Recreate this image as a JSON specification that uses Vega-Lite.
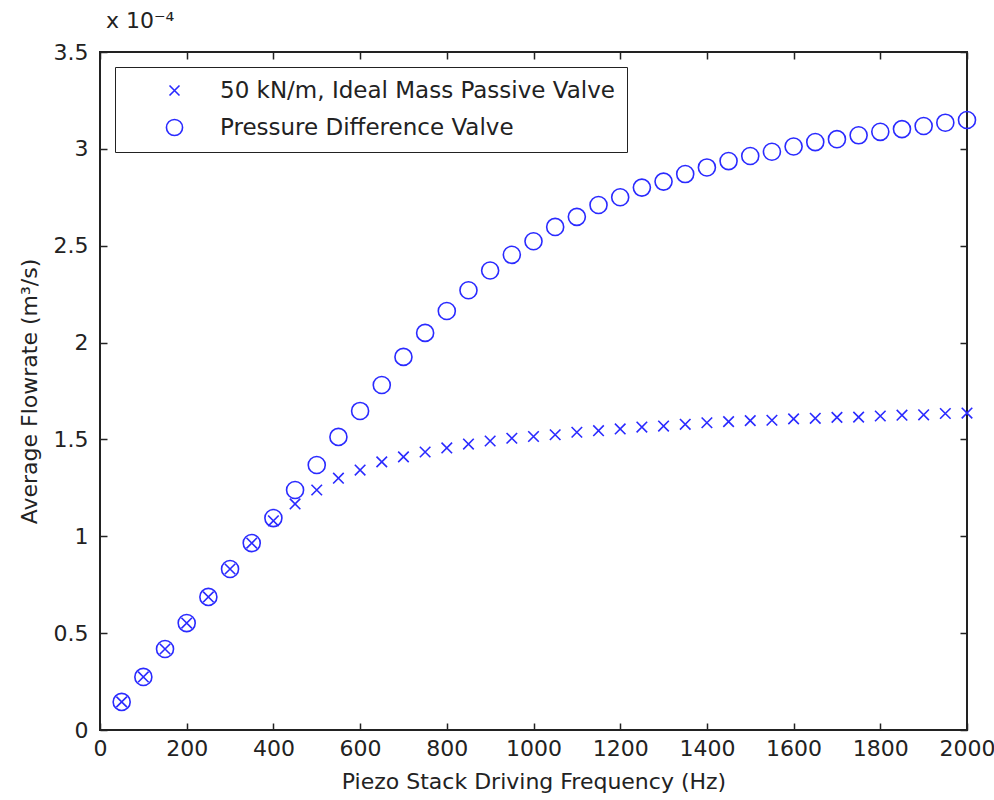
{
  "$schema": "https://vega.github.io/schema/vega-lite/v6.json",
  "width": 867,
  "height": 678,
  "autosize": {"type": "none"},
  "padding": {"left": 100, "top": 52, "right": 27, "bottom": 70},
  "background": "white",
  "title": {"text": "x 10⁻⁴", "anchor": "start", "frame": "group", "dx": 6, "offset": 8, "font": "DejaVu Sans", "fontSize": 22, "fontWeight": "normal", "color": "#222222"},
  "config": {
    "view": {"stroke": "#222222", "strokeWidth": 2},
    "font": "DejaVu Sans",
    "axis": {"grid": false, "domain": false, "labelFlush": false, "labelOverlap": false, "tickColor": "#222222", "tickSize": -7, "tickWidth": 1.5, "labelFont": "DejaVu Sans", "labelFontSize": 22, "labelColor": "#222222", "titleFont": "DejaVu Sans", "titleFontSize": 22, "titleFontWeight": "normal", "titleColor": "#222222"}
  },
  "data": {"values": [
    {"f": 50, "series": "50 kN/m, Ideal Mass Passive Valve", "q": 0.145},
    {"f": 100, "series": "50 kN/m, Ideal Mass Passive Valve", "q": 0.274},
    {"f": 150, "series": "50 kN/m, Ideal Mass Passive Valve", "q": 0.418},
    {"f": 200, "series": "50 kN/m, Ideal Mass Passive Valve", "q": 0.552},
    {"f": 250, "series": "50 kN/m, Ideal Mass Passive Valve", "q": 0.687},
    {"f": 300, "series": "50 kN/m, Ideal Mass Passive Valve", "q": 0.831},
    {"f": 350, "series": "50 kN/m, Ideal Mass Passive Valve", "q": 0.965},
    {"f": 400, "series": "50 kN/m, Ideal Mass Passive Valve", "q": 1.08},
    {"f": 450, "series": "50 kN/m, Ideal Mass Passive Valve", "q": 1.167},
    {"f": 500, "series": "50 kN/m, Ideal Mass Passive Valve", "q": 1.239},
    {"f": 550, "series": "50 kN/m, Ideal Mass Passive Valve", "q": 1.30},
    {"f": 600, "series": "50 kN/m, Ideal Mass Passive Valve", "q": 1.342},
    {"f": 650, "series": "50 kN/m, Ideal Mass Passive Valve", "q": 1.384},
    {"f": 700, "series": "50 kN/m, Ideal Mass Passive Valve", "q": 1.41},
    {"f": 750, "series": "50 kN/m, Ideal Mass Passive Valve", "q": 1.435},
    {"f": 800, "series": "50 kN/m, Ideal Mass Passive Valve", "q": 1.456},
    {"f": 850, "series": "50 kN/m, Ideal Mass Passive Valve", "q": 1.476},
    {"f": 900, "series": "50 kN/m, Ideal Mass Passive Valve", "q": 1.492},
    {"f": 950, "series": "50 kN/m, Ideal Mass Passive Valve", "q": 1.506},
    {"f": 1000, "series": "50 kN/m, Ideal Mass Passive Valve", "q": 1.515},
    {"f": 1050, "series": "50 kN/m, Ideal Mass Passive Valve", "q": 1.524},
    {"f": 1100, "series": "50 kN/m, Ideal Mass Passive Valve", "q": 1.537},
    {"f": 1150, "series": "50 kN/m, Ideal Mass Passive Valve", "q": 1.545},
    {"f": 1200, "series": "50 kN/m, Ideal Mass Passive Valve", "q": 1.554},
    {"f": 1250, "series": "50 kN/m, Ideal Mass Passive Valve", "q": 1.564},
    {"f": 1300, "series": "50 kN/m, Ideal Mass Passive Valve", "q": 1.569},
    {"f": 1350, "series": "50 kN/m, Ideal Mass Passive Valve", "q": 1.578},
    {"f": 1400, "series": "50 kN/m, Ideal Mass Passive Valve", "q": 1.586},
    {"f": 1450, "series": "50 kN/m, Ideal Mass Passive Valve", "q": 1.592},
    {"f": 1500, "series": "50 kN/m, Ideal Mass Passive Valve", "q": 1.597},
    {"f": 1550, "series": "50 kN/m, Ideal Mass Passive Valve", "q": 1.599},
    {"f": 1600, "series": "50 kN/m, Ideal Mass Passive Valve", "q": 1.606},
    {"f": 1650, "series": "50 kN/m, Ideal Mass Passive Valve", "q": 1.609},
    {"f": 1700, "series": "50 kN/m, Ideal Mass Passive Valve", "q": 1.614},
    {"f": 1750, "series": "50 kN/m, Ideal Mass Passive Valve", "q": 1.615},
    {"f": 1800, "series": "50 kN/m, Ideal Mass Passive Valve", "q": 1.621},
    {"f": 1850, "series": "50 kN/m, Ideal Mass Passive Valve", "q": 1.625},
    {"f": 1900, "series": "50 kN/m, Ideal Mass Passive Valve", "q": 1.627},
    {"f": 1950, "series": "50 kN/m, Ideal Mass Passive Valve", "q": 1.634},
    {"f": 2000, "series": "50 kN/m, Ideal Mass Passive Valve", "q": 1.636},
    {"f": 50, "series": "Pressure Difference Valve", "q": 0.145},
    {"f": 100, "series": "Pressure Difference Valve", "q": 0.274},
    {"f": 150, "series": "Pressure Difference Valve", "q": 0.418},
    {"f": 200, "series": "Pressure Difference Valve", "q": 0.552},
    {"f": 250, "series": "Pressure Difference Valve", "q": 0.687},
    {"f": 300, "series": "Pressure Difference Valve", "q": 0.831},
    {"f": 350, "series": "Pressure Difference Valve", "q": 0.965},
    {"f": 400, "series": "Pressure Difference Valve", "q": 1.094},
    {"f": 450, "series": "Pressure Difference Valve", "q": 1.239},
    {"f": 500, "series": "Pressure Difference Valve", "q": 1.368},
    {"f": 550, "series": "Pressure Difference Valve", "q": 1.513},
    {"f": 600, "series": "Pressure Difference Valve", "q": 1.647},
    {"f": 650, "series": "Pressure Difference Valve", "q": 1.781},
    {"f": 700, "series": "Pressure Difference Valve", "q": 1.926},
    {"f": 750, "series": "Pressure Difference Valve", "q": 2.05},
    {"f": 800, "series": "Pressure Difference Valve", "q": 2.163},
    {"f": 850, "series": "Pressure Difference Valve", "q": 2.27},
    {"f": 900, "series": "Pressure Difference Valve", "q": 2.372},
    {"f": 950, "series": "Pressure Difference Valve", "q": 2.453},
    {"f": 1000, "series": "Pressure Difference Valve", "q": 2.523},
    {"f": 1050, "series": "Pressure Difference Valve", "q": 2.597},
    {"f": 1100, "series": "Pressure Difference Valve", "q": 2.649},
    {"f": 1150, "series": "Pressure Difference Valve", "q": 2.71},
    {"f": 1200, "series": "Pressure Difference Valve", "q": 2.75},
    {"f": 1250, "series": "Pressure Difference Valve", "q": 2.80},
    {"f": 1300, "series": "Pressure Difference Valve", "q": 2.831},
    {"f": 1350, "series": "Pressure Difference Valve", "q": 2.87},
    {"f": 1400, "series": "Pressure Difference Valve", "q": 2.904},
    {"f": 1450, "series": "Pressure Difference Valve", "q": 2.937},
    {"f": 1500, "series": "Pressure Difference Valve", "q": 2.963},
    {"f": 1550, "series": "Pressure Difference Valve", "q": 2.985},
    {"f": 1600, "series": "Pressure Difference Valve", "q": 3.012},
    {"f": 1650, "series": "Pressure Difference Valve", "q": 3.035},
    {"f": 1700, "series": "Pressure Difference Valve", "q": 3.05},
    {"f": 1750, "series": "Pressure Difference Valve", "q": 3.07},
    {"f": 1800, "series": "Pressure Difference Valve", "q": 3.088},
    {"f": 1850, "series": "Pressure Difference Valve", "q": 3.102},
    {"f": 1900, "series": "Pressure Difference Valve", "q": 3.118},
    {"f": 1950, "series": "Pressure Difference Valve", "q": 3.135},
    {"f": 2000, "series": "Pressure Difference Valve", "q": 3.149}
  ]},
  "layer": [
    {
      "mark": {"type": "point", "filled": false, "strokeWidth": 1.6, "opacity": 1, "size": 290},
      "encoding": {
        "x": {"field": "f", "type": "quantitative", "scale": {"domain": [0, 2000], "nice": false}, "axis": {"values": [0,200,400,600,800,1000,1200,1400,1600,1800,2000], "format": "d", "title": "Piezo Stack Driving Frequency (Hz)", "labelPadding": 15, "titlePadding": 12}},
        "y": {"field": "q", "type": "quantitative", "scale": {"domain": [0, 3.5], "nice": false}, "axis": {"values": [0,0.5,1,1.5,2,2.5,3,3.5], "format": "~g", "title": "Average Flowrate (m³/s)", "labelPadding": 19, "titlePadding": 12}},
        "shape": {"field": "series", "type": "nominal", "scale": {"domain": ["50 kN/m, Ideal Mass Passive Valve", "Pressure Difference Valve"], "range": ["M-0.62,-0.62L0.62,0.62M-0.62,0.62L0.62,-0.62", "circle"]}, "legend": {"title": null, "orient": "top-left", "offset": 15, "strokeColor": "#222222", "fillColor": "white", "padding": 12, "labelFontSize": 23, "labelFont": "DejaVu Sans", "labelColor": "#222222", "symbolStrokeColor": "#2a2aff", "symbolStrokeWidth": 1.6, "symbolSize": 260, "symbolOffset": 36, "labelOffset": 34, "rowPadding": 13, "labelLimit": 600}},
        "color": {"value": "#2a2aff"}
      }
    },
    {
      "mark": {"type": "point", "opacity": 0},
      "encoding": {
        "x": {"field": "f", "type": "quantitative", "scale": {"domain": [0, 2000], "nice": false}, "axis": {"orient": "top", "values": [0,200,400,600,800,1000,1200,1400,1600,1800,2000], "labels": false, "title": null}},
        "y": {"field": "q", "type": "quantitative", "scale": {"domain": [0, 3.5], "nice": false}, "axis": {"orient": "right", "values": [0,0.5,1,1.5,2,2.5,3,3.5], "labels": false, "title": null}}
      }
    }
  ],
  "resolve": {"axis": {"x": "independent", "y": "independent"}}
}
